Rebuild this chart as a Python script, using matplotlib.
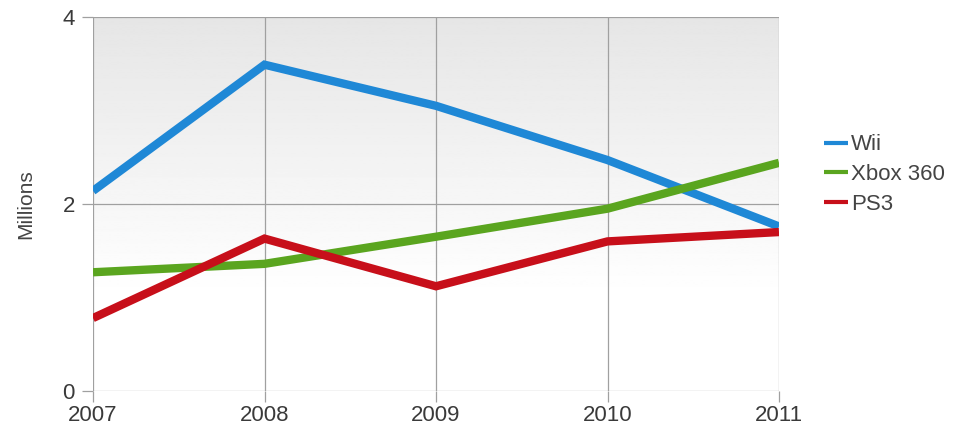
import matplotlib.pyplot as plt
import numpy as np

years = [2007, 2008, 2009, 2010, 2011]
wii = [2.14, 3.49, 3.05, 2.47, 1.76]
xbox = [1.27, 1.36, 1.65, 1.95, 2.44]
ps3 = [0.78, 1.63, 1.12, 1.60, 1.70]

SERIES = [
    ('Wii', wii, '#1f88d6'),
    ('Xbox 360', xbox, '#5aa51f'),
    ('PS3', ps3, '#c70f1a'),
]

plt.rcParams['font.family'] = ['Liberation Sans', 'DejaVu Sans']

fig = plt.figure(figsize=(9.6, 4.37), dpi=100)
ax = fig.add_axes([93 / 960, 1 - 391 / 437, (779 - 93) / 960, (391 - 17) / 437])

# vertical gradient background, light grey on top fading to white
t = np.linspace(0, 1, 256)
grad = np.clip(1.0 - 0.10 * (t - 0.25) / 0.75, 0.90, 1.0).reshape(-1, 1)
ax.imshow(grad, cmap='gray', vmin=0, vmax=1, aspect='auto', origin='lower',
          extent=(2007, 2011, 0, 4), zorder=0)

for name, vals, col in SERIES:
    ax.plot(years, vals, color=col, lw=6, label=name,
            solid_capstyle='butt', solid_joinstyle='miter', zorder=3)

ax.set_xlim(2007, 2011)
ax.set_ylim(0, 4)
ax.set_xticks(years)
ax.set_yticks([0, 2, 4])
ax.grid(True, color='#a0a0a0', lw=0.9, zorder=1)
ax.set_axisbelow(True)
for s in ax.spines.values():
    s.set_visible(False)
ax.tick_params(colors='#a0a0a0', labelcolor='#3a3a3a', labelsize=16,
               length=8, width=0.9, pad=2)
ax.tick_params(axis='y', pad=5)
ax.set_ylabel('Millions', color='#444444', fontsize=15, labelpad=20)

leg = ax.legend(loc='upper left', bbox_to_anchor=(1.052, 0.71), frameon=False,
                fontsize=16, handlelength=1.1, handletextpad=0.15,
                labelspacing=0.39, borderaxespad=0)
for t in leg.get_texts():
    t.set_color('#444444')
for h in leg.get_lines():
    h.set_linewidth(3)

fig.savefig('out.png', dpi=100)
